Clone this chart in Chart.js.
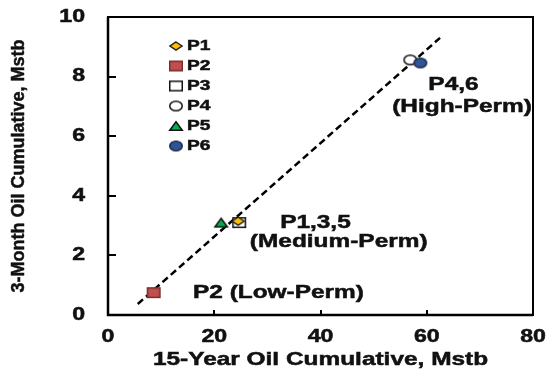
<!DOCTYPE html>
<html>
<head>
<meta charset="utf-8">
<script src="https://cdn.jsdelivr.net/npm/chart.js@4.4.0/dist/chart.umd.min.js"></script>
<style>
html, body { margin: 0; padding: 0; background: #fff; }
</style>
</head>
<body>
<canvas id="grafico" width="546" height="369"></canvas>
<script>
// datos
const pozos = ['P1', 'P2', 'P3', 'P4', 'P5', 'P6'];
const acum15 = [24.5, 8.6, 24.7, 56.9, 21.3, 58.8];   // Mstb, 15 anos
const acum3m = [3.15, 0.75, 3.1, 8.56, 3.1, 8.46];    // Mstb, 3 meses
const lineaX = [5.6, 62.5];
const lineaY = [0.37, 9.3];
const ticksX = [0, 20, 40, 60, 80];
const ticksY = [0, 2, 4, 6, 8, 10];
const notas = ['P4,6', '(High-Perm)', 'P1,3,5', '(Medium-Perm)', 'P2 (Low-Perm)'];
const tituloX = '15-Year Oil Cumulative, Mstb';
const tituloY = '3-Month Oil Cumulative, Mstb';

const SX = 1.32; // las letras del original son anchas
const FUENTE = '"Liberation Sans", Arial, sans-serif';

function texto(ctx, txt, x, y, size, align, sx, rot) {
  ctx.save();
  ctx.translate(x, y);
  ctx.scale(sx, 1);
  if (rot) ctx.rotate(rot);
  ctx.font = 'bold ' + size + 'px ' + FUENTE;
  ctx.textAlign = align;
  ctx.textBaseline = 'middle';
  ctx.fillStyle = '#111';
  ctx.strokeStyle = '#111';
  ctx.lineWidth = 0.5;
  ctx.fillText(txt, 0, 0);
  ctx.strokeText(txt, 0, 0);
  ctx.restore();
}

// marcadores como pequenos canvas (un poco mas anchos que altos)
function marcador(tipo, fondo, borde, w, h) {
  const c = document.createElement('canvas');
  c.width = w + 4;
  c.height = h + 4;
  const g = c.getContext('2d');
  g.translate(2, 2);
  g.fillStyle = fondo;
  g.strokeStyle = borde;
  g.lineWidth = 1.5;
  g.beginPath();
  if (tipo === 'diamante') {
    g.moveTo(w / 2, 0); g.lineTo(w, h / 2); g.lineTo(w / 2, h); g.lineTo(0, h / 2); g.closePath();
  } else if (tipo === 'cuadro') {
    g.rect(0.75, 0.75, w - 1.5, h - 1.5);
  } else if (tipo === 'circulo') {
    g.ellipse(w / 2, h / 2, w / 2 - 0.75, h / 2 - 0.75, 0, 0, Math.PI * 2);
  } else if (tipo === 'triangulo') {
    g.moveTo(w / 2, 0.75); g.lineTo(w - 0.75, h - 0.75); g.lineTo(0.75, h - 0.75); g.closePath();
  }
  g.fill();
  g.stroke();
  return c;
}

const estilos = [
  marcador('diamante', '#ffc000', '#222', 12, 8),
  marcador('cuadro', '#c0504d', '#7a2e2c', 14, 11),
  marcador('cuadro', '#ffffff', '#111', 14, 11),
  marcador('circulo', '#ffffff', '#111', 14, 11),
  marcador('triangulo', '#00b050', '#111', 14, 10),
  marcador('circulo', '#2f5597', '#1a2a4a', 14, 11)
];
const ordenes = [0, 1, 2, 3, 1, -1];

const datasets = pozos.map((p, i) => ({
  label: p,
  data: [{ x: acum15[i], y: acum3m[i] }],
  pointStyle: estilos[i],
  pointRadius: 7,
  order: ordenes[i]
}));
datasets.push({
  label: 'ajuste',
  data: lineaX.map((x, i) => ({ x: x, y: lineaY[i] })),
  showLine: true,
  borderColor: '#000',
  borderWidth: 2.5,
  borderDash: [7, 4],
  pointRadius: 0,
  order: 20
});

const marcoPlugin = {
  id: 'marco',
  afterDraw(chart) {
    const ctx = chart.ctx;
    const a = chart.chartArea;
    const sx = chart.scales.x;
    const sy = chart.scales.y;
    ctx.save();
    ctx.strokeStyle = '#000';
    ctx.lineWidth = 2;
    ctx.strokeRect(a.left, a.top, a.right - a.left, a.bottom - a.top);
    ctx.lineWidth = 2.5;
    ctx.beginPath();
    ctx.moveTo(a.left, a.top);
    ctx.lineTo(a.left, a.bottom);
    ctx.lineTo(a.right, a.bottom);
    ctx.stroke();
    ctx.lineWidth = 2;
    ctx.beginPath();
    ticksY.forEach(v => {
      if (v === ticksY[0] || v === ticksY[ticksY.length - 1]) return;
      const py = Math.round(sy.getPixelForValue(v));
      ctx.moveTo(a.left, py);
      ctx.lineTo(a.left + 8, py);
    });
    ticksX.forEach(v => {
      if (v === ticksX[0] || v === ticksX[ticksX.length - 1]) return;
      const px = Math.round(sx.getPixelForValue(v));
      ctx.moveTo(px, a.bottom);
      ctx.lineTo(px, a.bottom - 5);
    });
    ctx.stroke();
    ctx.restore();

    // etiquetas de los ejes
    ticksX.forEach(v => texto(ctx, String(v), sx.getPixelForValue(v), a.bottom + 22, 17.5, 'center', SX));
    ticksY.forEach(v => texto(ctx, String(v), a.left - 23, sy.getPixelForValue(v), 17.5, 'right', SX));
    texto(ctx, tituloX, (a.left + a.right) / 2, a.bottom + 45, 18.5, 'center', SX);
    texto(ctx, tituloY, 19, (a.top + a.bottom) / 2, 18, 'center', 1, -Math.PI / 2);

    // notas junto a los puntos
    const pos = [[60.3, 7.72], [53.5, 6.98], [32.4, 3.09], [26.7, 2.45], [16.0, 0.74]];
    notas.forEach((t, i) => {
      texto(ctx, t, sx.getPixelForValue(pos[i][0]), sy.getPixelForValue(pos[i][1]), 18.5, 'left', SX);
    });

    // leyenda dentro del area
    pozos.forEach((p, i) => {
      const y = a.top + 29 + i * 20;
      const img = estilos[i];
      ctx.drawImage(img, 176 - img.width / 2, y - img.height / 2);
      texto(ctx, p, 187, y, 14.5, 'left', SX);
    });
  }
};

new Chart(document.getElementById('grafico'), {
  type: 'scatter',
  data: { datasets: datasets },
  options: {
    responsive: false,
    animation: false,
    layout: { padding: { left: 108, top: 17, right: 13, bottom: 54 } },
    scales: {
      x: { type: 'linear', min: 0, max: 80, display: false },
      y: { type: 'linear', min: 0, max: 10, display: false }
    },
    plugins: {
      legend: { display: false },
      tooltip: { enabled: false }
    }
  },
  plugins: [marcoPlugin]
});
</script>
</body>
</html>
